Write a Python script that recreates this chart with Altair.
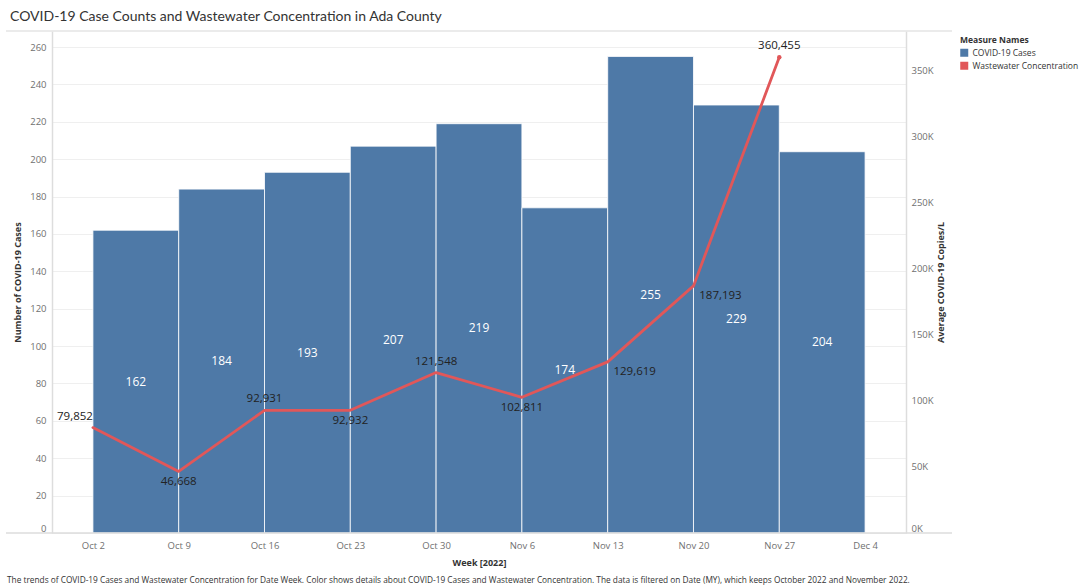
import json
import altair as alt
import pandas as pd

# ---- data ----
weeks = ["Oct 2", "Oct 9", "Oct 16", "Oct 23", "Oct 30", "Nov 6", "Nov 13", "Nov 20", "Nov 27"]
tick_labels = weeks + ["Dec 4"]
cases = [162, 184, 193, 207, 219, 174, 255, 229, 204]
wastewater = [79852, 46668, 92931, 92932, 121548, 102811, 129619, 187193, 360455]
measures = ["COVID-19 Cases", "Wastewater Concentration"]
caption = ("The trends of COVID-19 Cases and Wastewater Concentration for Date Week.  Color shows details "
           "about COVID-19 Cases and Wastewater Concentration. The data is filtered on Date (MY), which keeps "
           "October 2022 and November 2022.")

# label placement for the wastewater labels (style)
label_side = ["above-left", "below", "above", "below", "above", "below", "below-right", "below-right", "above"]

BLUE = "#4e79a7"
RED = "#e15759"
FONT = "Open Sans"
W, H = 854, 502

df = pd.DataFrame({
    "week": weeks,
    "idx": list(range(len(weeks))),
    "cases": cases,
    "ww": wastewater,
    "side": label_side,
    "measure": measures[0],
})

label_expr = json.dumps(tick_labels) + "[datum.value]"
xscale = alt.Scale(domain=[-0.477, 9.477], nice=False, zero=False)
x_axis = alt.Axis(values=list(range(10)), labelExpr=label_expr, title="Week [2022]",
                  grid=False, ticks=False, domain=False, labelFontSize=9.5, labelColor="#707070",
                  labelPadding=7, titleFontSize=9, titleFontWeight="bold", titleColor="#333333",
                  titleY=29, titleBaseline="middle", labelFont=FONT, titleFont=FONT)

yl_scale = alt.Scale(domain=[0, 268.6], nice=False)
yr_scale = alt.Scale(domain=[0, 380300], nice=False)

yl_axis = alt.Axis(values=list(range(0, 261, 20)), title="Number of COVID-19 Cases",
                   grid=True, gridColor="#efefef", ticks=False, domain=True, domainColor="#dddddd",
                   domainWidth=1.5,
                   labelFontSize=9.5, labelColor="#707070", labelPadding=6, labelFlush=True,
                   titleFontSize=9, titleFontWeight="bold", titleColor="#333333",
                   titleAngle=270, titleX=-35, titleY=H / 2, titleAlign="center",
                   titleBaseline="middle", labelFont=FONT, titleFont=FONT)

yr_axis = alt.Axis(orient="right", values=list(range(0, 350001, 50000)),
                   labelExpr="format(datum.value / 1000, 'd') + 'K'",
                   title="Average COVID-19 Copies/L", grid=False, ticks=False,
                   domain=True, domainColor="#dddddd", domainWidth=1.5,
                   labelFontSize=9.5, labelColor="#707070", labelPadding=5, labelFlush=True,
                   titleFontSize=9, titleFontWeight="bold", titleColor="#333333",
                   titleAngle=270, titleX=34, titleY=H / 2, titleAlign="center",
                   titleBaseline="middle", labelFont=FONT, titleFont=FONT)

base = alt.Chart(df).transform_calculate(
    idx_end="datum.idx + 1", mid="datum.idx + 0.5", half="datum.cases / 2"
)

bars = base.mark_bar(stroke="white", strokeWidth=1, strokeOpacity=0.8).encode(
    x=alt.X("idx:Q", scale=xscale, axis=x_axis),
    x2="idx_end:Q",
    y=alt.Y("cases:Q", scale=yl_scale, axis=yl_axis),
    y2=alt.datum(0),
    color=alt.Color("measure:N", scale=alt.Scale(domain=measures, range=[BLUE, RED]),
                    legend=alt.Legend(title="Measure Names", orient="none", legendX=908, legendY=5,
                                      symbolType="square", symbolSize=64, symbolStrokeWidth=0,
                                      titleFontSize=8.5, labelFontSize=8.5, titleFontWeight="bold",
                                      titleColor="#333333", labelColor="#333333", rowPadding=4,
                                      titlePadding=4, labelFont=FONT, titleFont=FONT)),
)

bar_text = base.mark_text(color="white", fontSize=12, font=FONT).encode(
    x=alt.X("mid:Q", scale=xscale, axis=x_axis),
    y=alt.Y("half:Q", scale=yl_scale, axis=yl_axis),
    text=alt.Text("cases:Q"),
)

bar_layer = alt.layer(bars, bar_text)

line = base.mark_line(color=RED, strokeWidth=2.8, strokeCap="round", strokeJoin="round").encode(
    x=alt.X("idx:Q", scale=xscale, axis=x_axis),
    y=alt.Y("ww:Q", scale=yr_scale, axis=yr_axis),
)

end_dot = base.mark_point(color=RED, filled=True, size=20, opacity=1).encode(
    x=alt.X("idx:Q", scale=xscale, axis=x_axis),
    y=alt.Y("ww:Q", scale=yr_scale, axis=yr_axis),
).transform_filter(f"datum.idx == {len(weeks) - 1}")

offsets = {
    "above-left": (-18, -11),
    "below": (0, 11),
    "above": (0, -11),
    "below-right": (27, 10),
}
line_texts = []
for side, (dx, dy) in offsets.items():
    line_texts.append(
        base.mark_text(color="#222222", fontSize=11.5, font=FONT, dx=dx, dy=dy).encode(
            x=alt.X("idx:Q", scale=xscale, axis=x_axis),
            y=alt.Y("ww:Q", scale=yr_scale, axis=yr_axis),
            text=alt.Text("ww:Q", format=","),
        ).transform_filter(f"datum.side == '{side}'")
    )

line_layer = alt.layer(line, end_dot, *line_texts)

frame_df = pd.DataFrame({"a": [0]})
top_rule = alt.Chart(frame_df).mark_rule(color="#e4e4e4", strokeWidth=1.5).encode(
    x=alt.value(-46), x2=alt.value(W + 46), y=alt.value(0))
bottom_rule = alt.Chart(frame_df).mark_rule(color="#dddddd", strokeWidth=1.5).encode(
    x=alt.value(-46), x2=alt.value(W + 46), y=alt.value(H))
caption_text = alt.Chart(frame_df).mark_text(
    align="left", baseline="middle", fontSize=8.3, font=FONT, color="#333333").encode(
    x=alt.value(-45), y=alt.value(H + 48), text=alt.value(caption))

chart = alt.layer(bar_layer, line_layer, top_rule, bottom_rule, caption_text).resolve_scale(
    y="independent"
).properties(
    width=W, height=H,
    title=alt.TitleParams("COVID-19 Case Counts and Wastewater Concentration in Ada County",
                          anchor="start", frame="group", dx=-42, offset=6, fontSize=14,
                          fontWeight="normal", color="#333333", font="Lato"),
    autosize=alt.AutoSizeParams(type="none"),
    padding={"left": 52, "top": 31, "right": 1081 - 52 - W, "bottom": 587 - 31 - H},
).configure_view(stroke=None)

chart.save("out.html", embed_options={"renderer": "svg", "actions": False})
